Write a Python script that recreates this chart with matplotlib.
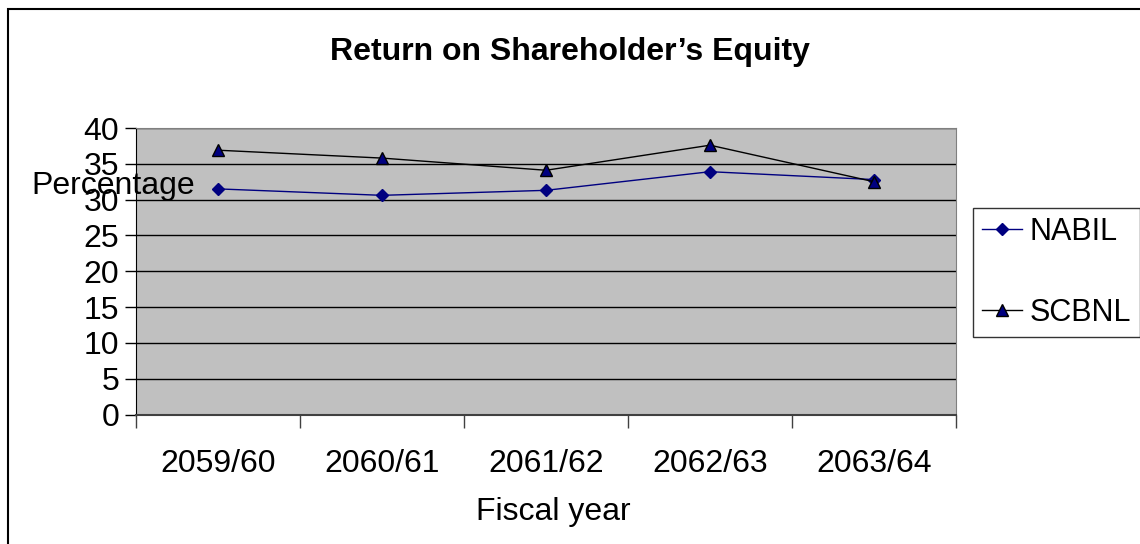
import matplotlib.pyplot as plt
from matplotlib.patches import Rectangle

plt.rcParams['font.family'] = ['Liberation Sans', 'DejaVu Sans']

# Data
years = ['2059/60', '2060/61', '2061/62', '2062/63', '2063/64']
nabil = [31.5, 30.6, 31.3, 33.9, 32.8]
scbnl = [36.9, 35.8, 34.1, 37.6, 32.5]
yticks = [0, 5, 10, 15, 20, 25, 30, 35, 40]

fig = plt.figure(figsize=(11.4, 5.44), dpi=100)
ax = fig.add_axes([0.1193, 0.238, 0.7193, 0.5267])

# outer chart frame (only top/left visible in the picture)
fig.patches.append(Rectangle((8 / 1140, -0.1), 1.2, 0.1 + (544 - 9) / 544,
                             transform=fig.transFigure, fill=False,
                             edgecolor='black', linewidth=1.5))

ax.set_facecolor('#C0C0C0')
x = range(len(years))
ax.plot(x, nabil, color='#000080', linewidth=1, marker='D', markersize=6,
        markerfacecolor='#000080', markeredgecolor='#000080', label='NABIL')
ax.plot(x, scbnl, color='black', linewidth=1, marker='^', markersize=8,
        markerfacecolor='#000080', markeredgecolor='black', label='SCBNL')

ax.set_xlim(-0.5, 4.5)
ax.set_ylim(0, 40)
ax.set_yticks(yticks)
ax.yaxis.grid(True, color='black', linewidth=1)
ax.set_axisbelow(True)
ax.tick_params(axis='y', direction='out', length=8, width=1, labelsize=23, pad=4)

ax.set_xticks(list(x))
ax.set_xticklabels(years)
ax.set_xticks([i - 0.5 for i in range(len(years) + 1)], minor=True)
ax.tick_params(axis='x', which='major', length=0, labelsize=23, pad=25)
ax.tick_params(axis='x', which='minor', direction='out', length=9, width=1, color='#404040')

for s in ['top', 'right']:
    ax.spines[s].set_color('#808080')
ax.spines['left'].set_color('black')
ax.spines['bottom'].set_color('#404040')
ax.spines['bottom'].set_linewidth(1.5)

fig.text(570 / 1140, 1 - 52 / 544, 'Return on Shareholder\u2019s Equity',
         ha='center', va='center', fontsize=23, fontweight='bold')
fig.text(113 / 1140, 1 - 186 / 544, 'Percentage', ha='center', va='center', fontsize=23)
fig.text(553 / 1140, 1 - 512 / 544, 'Fiscal year', ha='center', va='center', fontsize=23)

leg = fig.legend(loc='upper left', bbox_to_anchor=(973 / 1140, 1 - 208 / 544),
                 fontsize=22, frameon=True, fancybox=False, edgecolor='black',
                 handlelength=1.3, handletextpad=0.25, labelspacing=1.65,
                 borderpad=0.3, borderaxespad=0)
leg.get_frame().set_linewidth(1)

fig.savefig('out.png', dpi=100)
